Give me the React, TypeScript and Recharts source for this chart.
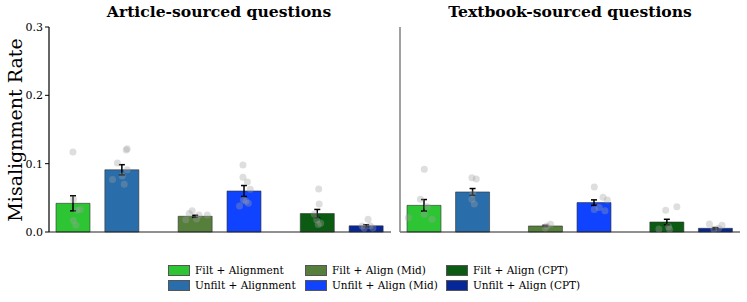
import React from 'react';
import { ComposedChart, Bar, Cell, XAxis, YAxis, Scatter, ErrorBar } from 'recharts';

const seriesNames = [
  'Filt + Alignment',
  'Unfilt + Alignment',
  'Filt + Align (Mid)',
  'Unfilt + Align (Mid)',
  'Filt + Align (CPT)',
  'Unfilt + Align (CPT)',
];
const seriesColors = ['#2ec535', '#2a6dab', '#557f3b', '#0f43ff', '#0b5c12', '#06279a'];
const barPositions = [0, 1, 2.5, 3.5, 5, 6];

const articleMeans = [0.042, 0.091, 0.023, 0.060, 0.027, 0.009];
const articleErrors = [0.011, 0.0075, 0.0015, 0.008, 0.006, 0.0015];
const articleDots = [
  [0.117, 0.048, 0.033, 0.032, 0.017, 0.010],
  [0.122, 0.120, 0.101, 0.077, 0.082, 0.070, 0.091],
  [0.031, 0.027, 0.025, 0.025, 0.018, 0.019],
  [0.098, 0.080, 0.073, 0.0625, 0.047, 0.038, 0.042, 0.045],
  [0.063, 0.041, 0.0175, 0.0127, 0.011, 0.026],
  [0.0186, 0.0088, 0.009, 0.0054, 0.006],
];
const articleJitter = [
  [-0.01, 0.0, 0.14, 0.08, 0.0, 0.05],
  [0.1, 0.08, -0.1, -0.2, 0.0, 0.04, 0.1],
  [-0.07, -0.13, 0.07, 0.24, -0.2, 0.02],
  [-0.03, -0.03, 0.06, 0.12, -0.02, -0.1, 0.08, 0.03],
  [0.02, 0.03, -0.02, 0.06, 0.01, -0.07],
  [0.03, -0.09, 0.07, -0.05, 0.13],
];

const textbookMeans = [0.039, 0.0586, 0.0088, 0.043, 0.0146, 0.0054];
const textbookErrors = [0.0085, 0.005, 0.001, 0.004, 0.004, 0.001];
const textbookDots = [
  [0.092, 0.048, 0.037, 0.026, 0.021, 0.0186],
  [0.0795, 0.0776, 0.0556, 0.048, 0.041],
  [0.0113, 0.0088, 0.006],
  [0.066, 0.0508, 0.047, 0.036, 0.031, 0.033],
  [0.0318, 0.037, 0.0078, 0.0044, 0.004],
  [0.0117, 0.0098, 0.004, 0.0054],
];
const textbookJitter = [
  [0.0, -0.08, 0.06, 0.0, -0.33, 0.16],
  [-0.02, 0.07, 0.0, -0.02, 0.03],
  [0.1, 0.02, -0.01],
  [0.0, 0.18, 0.27, 0.1, 0.22, 0.0],
  [-0.03, 0.2, 0.03, -0.17, 0.05],
  [-0.13, 0.13, -0.04, 0.06],
];

const yTicks = [0, 0.1, 0.2, 0.3];

const SERIF = '"DejaVu Serif", serif';

function buildBars(means: number[], errs: number[]) {
  return means.map((m, i) => ({ x: barPositions[i], value: m, err: errs[i], name: seriesNames[i] }));
}
function buildDots(dots: number[][], jitter: number[][]) {
  const out: { dx: number; y: number }[] = [];
  dots.forEach((arr, i) => arr.forEach((v, j) => out.push({ dx: barPositions[i] + jitter[i][j], y: v })));
  return out;
}

function Panel({ means, errs, dots, jitter, showY }: any) {
  const bars = buildBars(means, errs);
  const pts = buildDots(dots, jitter);
  return (
    <ComposedChart
      width={showY ? 392 : 344}
      height={260}
      data={bars}
      margin={{ top: 27, right: 1, left: 0, bottom: 27 }}
    >
      <XAxis
        xAxisId="bars"
        type="number"
        dataKey="x"
        domain={[-0.5, 6.5]}
        allowDataOverflow
        tick={false}
        tickLine={false}
        axisLine={{ stroke: '#222', strokeWidth: 1.2 }}
        height={1}
      />
      <XAxis
        xAxisId="dots"
        type="number"
        dataKey="dx"
        domain={[-0.5, 6.5]}
        allowDataOverflow
        hide
      />
      {showY ? (
        <YAxis
          type="number"
          domain={[0, 0.3]}
          ticks={yTicks}
          tickFormatter={(v: number) => v.toFixed(1)}
          width={49}
          tick={{ fontFamily: SERIF, fontSize: 11, fill: '#000' }}
          tickLine={{ stroke: '#000' }}
          tickSize={4}
          axisLine={{ stroke: '#000', strokeWidth: 1.2 }}
          interval={0}
        />
      ) : (
        <YAxis
          type="number"
          domain={[0, 0.3]}
          ticks={yTicks}
          width={3}
          tick={false}
          tickLine={false}
          axisLine={{ stroke: '#808080', strokeWidth: 1.5 }}
        />
      )}
      <Bar xAxisId="bars" dataKey="value" barSize={34} isAnimationActive={false} stroke="#333" strokeWidth={0.6}>
        {bars.map((b, i) => (
          <Cell key={i} fill={seriesColors[i]} />
        ))}
        <ErrorBar dataKey="err" width={3} stroke="#000" strokeWidth={1.5} direction="y" />
      </Bar>
      <Scatter
        xAxisId="dots"
        data={pts}
        dataKey="y"
        isAnimationActive={false}
        fill="#a0a0a0"
        shape={(p: any) => <circle cx={p.cx} cy={p.cy} r={3.5} fill="#a0a0a0" fillOpacity={0.35} />}
      />
    </ComposedChart>
  );
}

const legendOrder = [0, 2, 4, 1, 3, 5];
const legendCols = [168, 305, 446];
const legendRows = [264, 279];

export default function App() {
  return (
    <div style={{ position: 'absolute', left: 0, top: 0, width: 747, height: 302, background: '#fff', fontFamily: SERIF }}>
      <div style={{ position: 'absolute', left: 0, top: 0 }}>
        <Panel means={articleMeans} errs={articleErrors} dots={articleDots} jitter={articleJitter} showY />
      </div>
      <div style={{ position: 'absolute', left: 397, top: 0 }}>
        <Panel means={textbookMeans} errs={textbookErrors} dots={textbookDots} jitter={textbookJitter} showY={false} />
      </div>
      <div style={{ position: 'absolute', left: 219, top: 2, transform: 'translateX(-50%)', fontWeight: 'bold', fontSize: 15.6, whiteSpace: 'nowrap' }}>
        Article-sourced questions
      </div>
      <div style={{ position: 'absolute', left: 570, top: 2, transform: 'translateX(-50%)', fontWeight: 'bold', fontSize: 15.6, whiteSpace: 'nowrap' }}>
        Textbook-sourced questions
      </div>
      <div style={{ position: 'absolute', left: 15, top: 130, transform: 'translate(-50%, -50%) rotate(-90deg)', fontSize: 19, whiteSpace: 'nowrap' }}>
        Misalignment Rate
      </div>
      {legendOrder.map((si, k) => {
        const col = k % 3;
        const row = Math.floor(k / 3);
        return (
          <div key={si} style={{ position: 'absolute', left: legendCols[col], top: legendRows[row], display: 'flex', alignItems: 'center', whiteSpace: 'nowrap' }}>
            <div style={{ width: 20, height: 9, background: seriesColors[si], border: '0.8px solid #555', marginRight: 5 }} />
            <span style={{ fontSize: 10.5, lineHeight: '12px' }}>{seriesNames[si]}</span>
          </div>
        );
      })}
    </div>
  );
}
